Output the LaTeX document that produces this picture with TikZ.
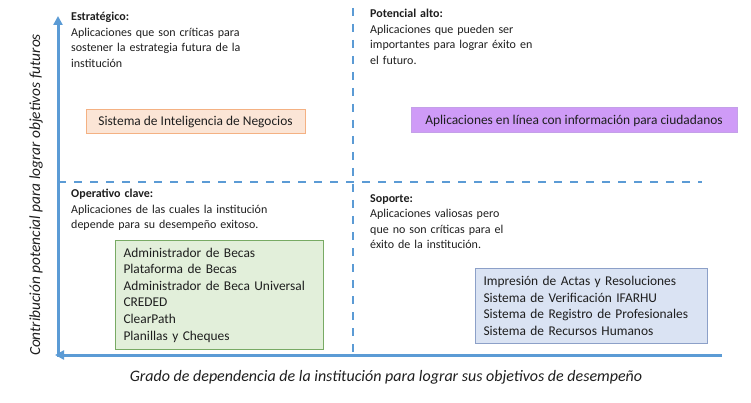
\documentclass[tikz,border=0pt]{standalone}
\usepackage{fontspec}
\setmainfont{Carlito}
\usetikzlibrary{arrows.meta}
\definecolor{axisblue}{RGB}{91,155,213}
\definecolor{peachfill}{RGB}{251,229,214}
\definecolor{peachdraw}{RGB}{244,177,131}
\definecolor{purplefill}{RGB}{207,155,247}
\definecolor{purpledraw}{RGB}{196,160,232}
\definecolor{greenfill}{RGB}{226,239,218}
\definecolor{greendraw}{RGB}{120,170,100}
\definecolor{bluefill}{RGB}{218,227,243}
\definecolor{bluedraw}{RGB}{140,160,200}
\definecolor{txt}{RGB}{30,30,30}
\begin{document}
\begin{tikzpicture}[x=1pt,y=-1pt,
  axisline/.style={draw=axisblue,line width=3pt,-{Triangle[length=9pt,width=9pt]}},
  divline/.style={draw=axisblue,line width=2pt,dash pattern=on 8pt off 8pt},
  quadtext/.style={anchor=north west,inner sep=0pt,align=left,font=\fontsize{12}{15.5}\selectfont,text=txt},
  appbox/.style={draw,line width=1pt,inner sep=0pt,font=\fontsize{13.4}{16.6}\selectfont,text=txt},
  axislabel/.style={font=\fontsize{16}{19}\selectfont\itshape,text=txt}]
\useasboundingbox (0,0) rectangle (751,403);
% axes
\coordinate (ytop) at (58,16);
\coordinate (ybot) at (58,356.5);
\coordinate (xright) at (722,355);
\coordinate (origintip) at (55,355);
% dividers
\coordinate (hl) at (58,182);
\coordinate (hr) at (702,182);
\coordinate (vt) at (353,8);
\coordinate (vb) at (353,355);
\draw[divline] (hl) -- (hr);
\draw[divline] (vt) -- (vb);
\draw[axisline] (ybot) -- (ytop);
\draw[axisline] (xright) -- (origintip);
% quadrant texts
\node[quadtext,text width=220pt] (estr) at (71,12) {\textbf{Estratégico:}\\Aplicaciones que son críticas para\\sostener la estrategia futura de la\\institución};
\node[quadtext,text width=220pt] (pot) at (370,9) {\textbf{Potencial alto:}\\Aplicaciones que pueden ser\\importantes para lograr éxito en\\el futuro.};
\node[quadtext,text width=250pt] (oper) at (71,189) {\textbf{Operativo clave:}\\Aplicaciones de las cuales la institución\\depende para su desempeño exitoso.};
\node[quadtext,text width=220pt] (sop) at (370,194) {\textbf{Soporte:}\\Aplicaciones valiosas pero\\que no son críticas para el\\éxito de la institución.};
% boxes
\node[appbox,fill=peachfill,draw=peachdraw,minimum width=219pt,minimum height=24pt] (bi) at (195.5,122) {Sistema de Inteligencia de Negocios};
\node[appbox,fill=purplefill,draw=purpledraw,minimum width=326pt,minimum height=25pt] (web) at (574,120.5) {Aplicaciones en línea con información para ciudadanos};
\node[appbox,fill=greenfill,draw=greendraw,minimum width=200pt,minimum height=109pt,align=left,anchor=north west,text width=192pt,inner xsep=8pt] (ops) at (115,240) {Administrador de Becas\\Plataforma de Becas\\Administrador de Beca Universal\\CREDED\\ClearPath\\Planillas y Cheques};
\node[appbox,fill=bluefill,draw=bluedraw,minimum width=224pt,minimum height=75pt,align=left,anchor=north west,text width=216pt,inner xsep=8pt] (sup) at (475,268) {Impresión de Actas y Resoluciones\\Sistema de Verificación IFARHU\\Sistema de Registro de Profesionales\\Sistema de Recursos Humanos};
% axis labels
\node[axislabel] (xlab) at (386,377) {Grado de dependencia de la institución para lograr sus objetivos de desempeño};
\node[axislabel,font=\fontsize{15.4}{18}\selectfont\itshape,rotate=90] (ylab) at (36,195) {Contribución potencial para lograr objetivos futuros};
\end{tikzpicture}
\end{document}
